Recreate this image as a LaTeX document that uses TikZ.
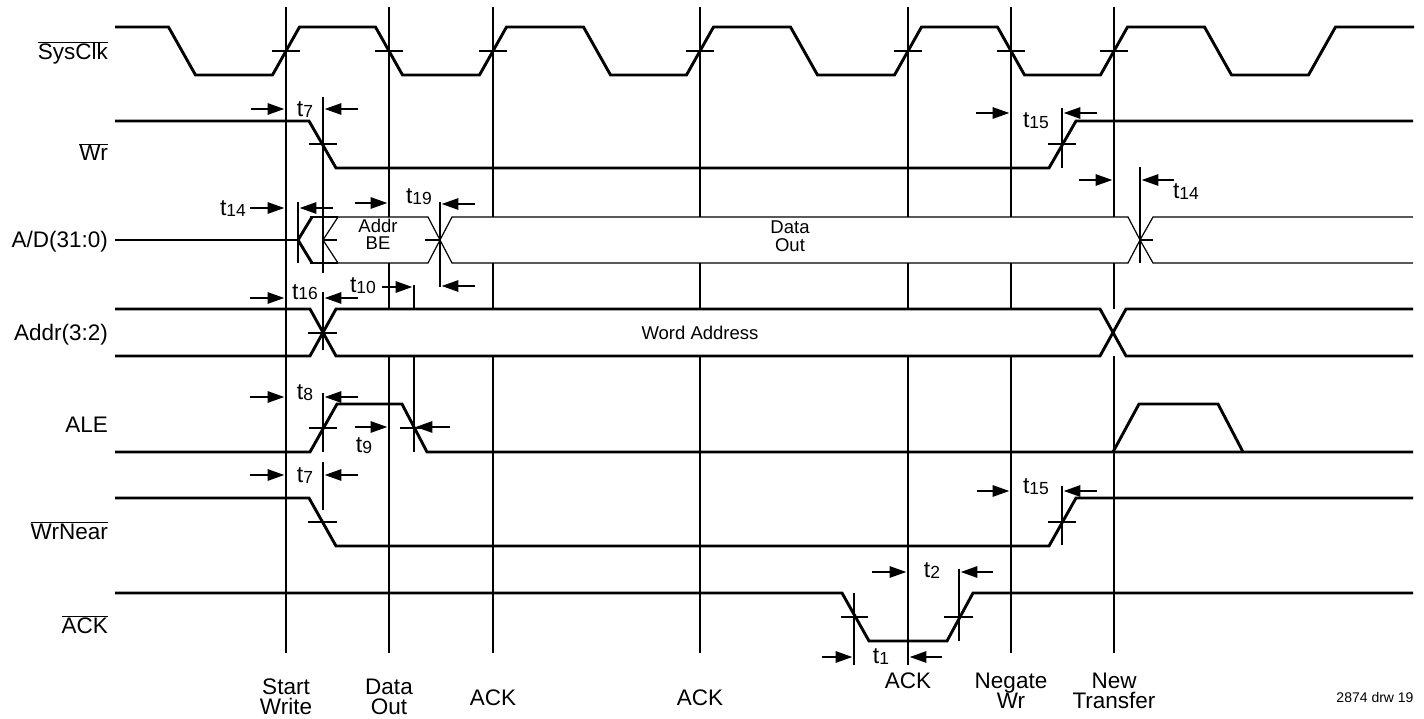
\documentclass[tikz,border=0pt]{standalone}
\usepackage{fontspec}
\setmainfont{Liberation Sans}
\usetikzlibrary{arrows.meta}
\newcommand\tlab[1]{t{\fontsize{17.5}{18}\selectfont\raisebox{-1pt}{#1}}}
\newcommand\ovl[1]{$\overline{\mbox{#1}}$}
\begin{document}
\begin{tikzpicture}[x=1pt,y=-1pt,
  sig/.style={line width=2.9pt},
  bus/.style={line width=1.2pt},
  gridl/.style={line width=2.9pt},
  mk/.style={line width=2.9pt},
  tk/.style={line width=2.9pt},
  arr/.style={line width=2.9pt,-{Triangle[length=17pt,width=11pt]}},
  nm/.style={anchor=base east,inner sep=0pt,font=\fontsize{22.5}{24}\selectfont},
  ev/.style={anchor=base,inner sep=0pt,font=\fontsize{22.5}{24}\selectfont},
  bt/.style={anchor=base,inner sep=0pt,font=\fontsize{18.5}{20}\selectfont},
  tl/.style={anchor=base,inner sep=0pt,font=\fontsize{23}{24}\selectfont},
  ft/.style={anchor=base,inner sep=0pt,font=\fontsize{14}{16}\selectfont}]
\useasboundingbox (0,0) rectangle (1424,719);
\fill[white] (0,0) rectangle (1424,719);

% grid lines
\foreach \gx in {286,389,493,700,1011,1114}
  \draw[gridl] (\gx,7) -- (\gx,653);
\draw[gridl] (908,7) -- (908,665);
% ALE fall marker (hidden in Addr bus)
\draw[mk] (414,285) -- (414,452);

% bus background fills
\fill[white] (312,217) rectangle (1413,263);
\fill[white] (310,309) rectangle (1413,356);

% ---------- SysClk ----------
\draw[sig] (115,27) -- (168.5,27) -- (195.5,75) -- (272.5,75) -- (299.5,27) -- (375.5,27) -- (402.5,75) -- (479.5,75) -- (506.5,27) -- (583.5,27) -- (610.5,75) -- (686.5,75) -- (713.5,27) -- (790.5,27) -- (817.5,75) -- (894.5,75) -- (921.5,27) -- (997.5,27) -- (1024.5,75) -- (1100.5,75) -- (1127.5,27) -- (1204.5,27) -- (1231.5,75) -- (1308.5,75) -- (1335.5,27) -- (1414,27);
\foreach \gx in {286,389,493,700,908,1011,1114}
  \draw[tk] (\gx-14,51) -- (\gx+14,51);

% ---------- Wr ----------
\draw[sig] (115,121) -- (309,121) -- (336,168) -- (1049,168) -- (1076,121) -- (1413,121);
\draw[tk] (309,144) -- (337,144);
\draw[tk] (1048,144) -- (1076,144);
\draw[mk] (323,97) -- (323,273);
\draw[mk] (1062,108) -- (1062,168);
\draw[arr] (251,109) -- (284.6,109);
\draw[arr] (358,109) -- (324.4,109);
\node[tl] (t7a) at (305,117) {\tlab{7}};
\draw[arr] (976,113) -- (1009.6,113);
\draw[arr] (1097,113) -- (1063.4,113);
\node[tl] (t15a) at (1036,128) {\tlab{15}};

% ---------- A/D(31:0) ----------
\draw[sig] (115,240) -- (298,240);
\draw[sig] (312,217) -- (298,240) -- (312,263);
\draw[sig] (310,217) -- (338,217);
\draw[sig] (310,263) -- (338,263);
\draw[bus] (323,240) -- (338,217) -- (428,217) -- (440,240) -- (428,263) -- (338,263) -- cycle;
\draw[bus] (440,240) -- (452,217) -- (1128,217) -- (1140,240) -- (1128,263) -- (452,263) -- cycle;
\draw[bus] (1413,217) -- (1153,217) -- (1140,240) -- (1153,263) -- (1413,263);
\draw[tk] (323,240) -- (337,240);
\draw[tk] (425,240) -- (440,240);
\draw[tk] (1140,240) -- (1153,240);
\draw[mk] (298,202) -- (298,263);
\draw[mk] (440,202) -- (440,287);
\draw[mk] (1140,167) -- (1140,263);
\node[bt] (addr) at (378,233) {Addr};
\node[bt] (be) at (378,250) {BE};
\node[bt] (data) at (790,234) {Data};
\node[bt] (out) at (790,252) {Out};
% t14 left
\draw[arr] (250,208) -- (284.6,208);
\draw[arr] (333,208) -- (299.4,208);
\node[tl] (t14a) at (233,216) {\tlab{14}};
% t19
\draw[arr] (355,203) -- (387.6,203);
\draw[arr] (475,204) -- (441.4,204);
\node[tl] (t19) at (419,204) {\tlab{19}};
% t10
\draw[arr] (382,287) -- (412.6,287);
\draw[arr] (475,286) -- (441.4,286);
\node[tl] (t10) at (363,293) {\tlab{10}};
% t14 right
\draw[arr] (1079,180) -- (1112.6,180);
\draw[arr] (1174,180) -- (1141.4,180);
\node[tl] (t14b) at (1186,199) {\tlab{14}};

% ---------- Addr(3:2) ----------
\draw[sig] (115,309) -- (310,309) -- (336,356) -- (1100,356) -- (1126,309) -- (1413,309);
\draw[sig] (115,356) -- (310,356) -- (336,309) -- (1100,309) -- (1126,356) -- (1413,356);
\draw[tk] (308,333) -- (337,333);
\draw[mk] (323,292) -- (323,350);
\node[bt] (word) at (700,339) {Word Address};
\draw[arr] (250,298) -- (284.6,298);
\draw[arr] (358,298) -- (324.4,298);
\node[tl] (t16) at (305,299) {\tlab{16}};

% ---------- ALE ----------
\draw[sig] (115,452) -- (310,452) -- (337,404) -- (402,404) -- (427,452) -- (1413,452);
\draw[sig] (1113,452) -- (1139,404) -- (1218,404) -- (1243,452);
\draw[tk] (309,428) -- (337,428);
\draw[tk] (400,428) -- (428,428);
\draw[mk] (323,393) -- (323,452);
\draw[arr] (250,397) -- (284.6,397);
\draw[arr] (358,397) -- (324.4,397);
\node[tl] (t8) at (305,399) {\tlab{8}};
\draw[arr] (355,427) -- (387.6,427);
\draw[arr] (450,427) -- (415.4,427);
\node[tl] (t9) at (364,452) {\tlab{9}};

% ---------- WrNear ----------
\draw[sig] (115,498) -- (309,498) -- (336,546) -- (1049,546) -- (1076,498) -- (1413,498);
\draw[tk] (308,522) -- (337,522);
\draw[tk] (1048,522) -- (1076,522);
\draw[mk] (323,462) -- (323,510);
\draw[mk] (1062,486) -- (1062,545);
\draw[arr] (250,475) -- (284.6,475);
\draw[arr] (358,475) -- (324.4,475);
\node[tl] (t7b) at (305,482) {\tlab{7}};
\draw[arr] (977,491) -- (1009.6,491);
\draw[arr] (1097,491) -- (1063.4,491);
\node[tl] (t15b) at (1036,493) {\tlab{15}};

% ---------- ACK ----------
\draw[sig] (115,593) -- (842,593) -- (869,641) -- (947,641) -- (973,593) -- (1413,593);
\draw[tk] (841,617) -- (868,617);
\draw[tk] (944,617) -- (973,617);
\draw[mk] (854,593) -- (854,665);
\draw[mk] (959,569) -- (959,641);
\draw[arr] (822,657) -- (852.6,657);
\draw[arr] (942,657) -- (909.4,657);
\node[tl] (t1) at (881,663) {\tlab{1}};
\draw[arr] (872,572) -- (906.6,572);
\draw[arr] (993,572) -- (960.4,572);
\node[tl] (t2) at (932,577) {\tlab{2}};

% ---------- signal names ----------
\node[nm] (nclk) at (108,60) {\ovl{SysClk}};
\node[nm] (nwr) at (108,161) {\ovl{Wr}};
\node[nm] (nad) at (108,248) {A/D(31:0)};
\node[nm] (naddr) at (108,341) {Addr(3:2)};
\node[nm] (nale) at (108,432) {ALE};
\node[nm] (nwrn) at (108,539) {\ovl{WrNear}};
\node[nm] (nack) at (108,633) {\ovl{ACK}};

% ---------- event labels ----------
\node[ev] (e1a) at (286,694) {Start};
\node[ev] (e1b) at (286,714) {Write};
\node[ev] (e2a) at (389,694) {Data};
\node[ev] (e2b) at (389,714) {Out};
\node[ev] (e3) at (493,705) {ACK};
\node[ev] (e4) at (700,705) {ACK};
\node[ev] (e5) at (908,688) {ACK};
\node[ev] (e6a) at (1011,688) {Negate};
\node[ev] (e6b) at (1011,708) {Wr};
\node[ev] (e7a) at (1114,688) {New};
\node[ev] (e7b) at (1114,708) {Transfer};
\node[ft] (fig) at (1375,702) {2874 drw 19};
\end{tikzpicture}
\end{document}
